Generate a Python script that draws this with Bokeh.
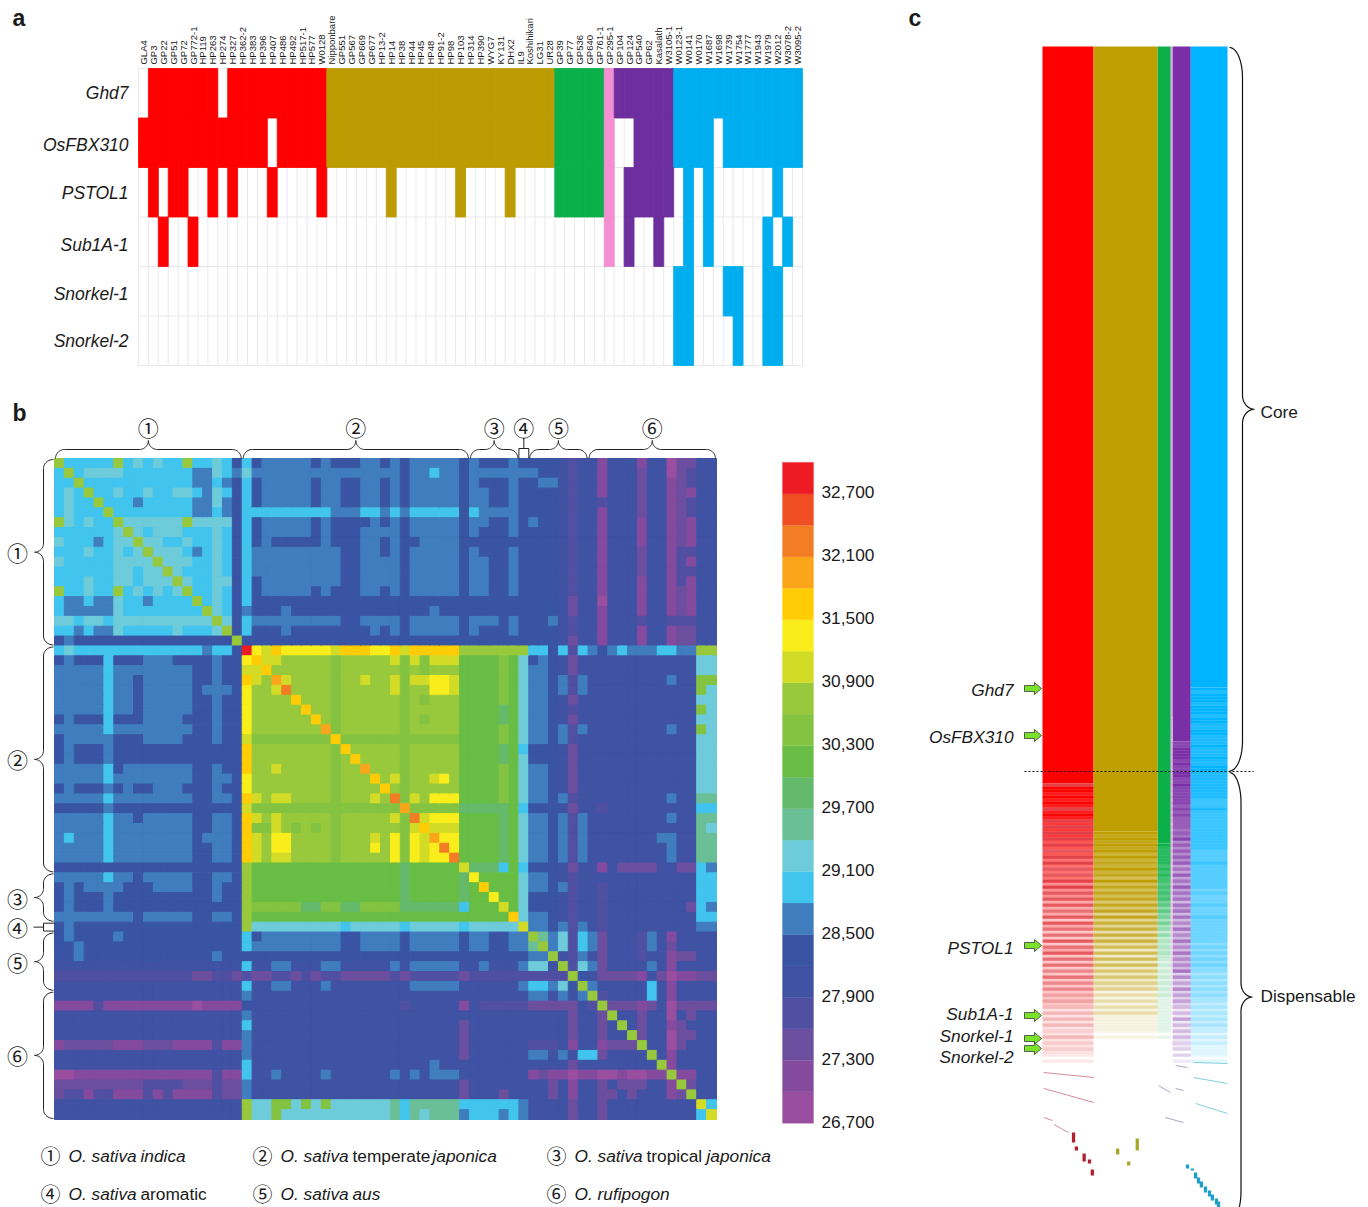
import re
import numpy as np
from bokeh.core.properties import value
from bokeh.embed import file_html
from bokeh.models import ColumnDataSource, LinearColorMapper, Range1d
from bokeh.plotting import figure
from bokeh.resources import INLINE

# ---------- panel a data ----------
SAMPLES = ["GLA4","GP3","GP22","GP51","GP72","GP772-1","HP119","HP263","HP274","HP327","HP362-2","HP383","HP396",
           "HP407","HP486","HP492","HP517-1","HP577","W0128","Nipponbare","GP551","GP567","GP669","GP677","HP13-2",
           "HP14","HP38","HP44","HP45","HP48","HP91-2","HP98","HP103","HP314","HP390","WYG7","KY131","DHX2","IL9",
           "Koshihikari","LG31","UR28","GP39","GP77","GP536","GP640","GP761-1","GP295-1","GP104","GP124","GP540",
           "GP62","Kasalath","W3105-1","W0123-1","W0141","W0170","W1687","W1698","W1739","W1754","W1777","W1943",
           "W1979","W2012","W3078-2","W3095-2"]
GROUP_SIZES = [19, 23, 5, 1, 6, 13]
GROUP_COLORS = ["#FF0000", "#BC9C02", "#0CB04A", "#F48FD2", "#6D2E9E", "#00AEEF"]
GENES = ["Ghd7", "OsFBX310", "PSTOL1", "Sub1A-1", "Snorkel-1", "Snorkel-2"]
GHD7_ABSENT = [0, 8]
OSFBX310_ABSENT = [13, 48, 49, 58]
PSTOL1_PRESENT = [1,3,4,7,9,13,18,25,32,37,42,43,44,45,46,47,49,50,51,52,53,55,57,64]
SUB1A_PRESENT = [2,5,47,49,52,55,57,63,65]
SNORKEL1_PRESENT = [54,55,59,60,63,64]
SNORKEL2_PRESENT = [54,55,60,63,64]

# ---------- panel b data: shared-gene classes, lower triangle, run-length coded ----------
LEVELS = "pqrsdDbctuvghijyoefkR"   # lowest to highest class
HEAT_PALETTE = ["#9A4E9F","#844A9E","#6C4E9F","#504FA2","#3F52A3","#3A54A4","#3F7DBF","#41C4EE","#6DCBDA","#6BBF97",
                "#64BA6A","#68BD45","#84C341","#98C93C","#D2DB26","#F9ED1B","#FFCC05","#FBA51A","#F37D25","#F04E23","#ED1C24"]
COLORBAR_TICKS = [26700, 27300, 27900, 28500, 29100, 29700, 30300, 30900, 31500, 32100, 32700]
LOWER = [
"i",
"c i",
"2c i",
"c t c i",
"c t 2c i",
"c t 3c i",
"i t c t 2c i",
"6c t i",
"t 3c b c 2t i",
"3c t 2c t c t i",
"t 5c 4t i",
"6c 2t c 2t i",
"3c t 2c 2t c 3t i",
"i 2c t 2c i c t c t c t i",
"c 2b c 2b t 2c b 4c i",
"c 5b t 8c i",
"2t c 2t c 10t i",
"2c b c 2b t 5c t 3c t i",
"D b 16D i",
"c t 13c b 2c D R",
"D b 3D c 3D 3b 4D b 2D y o",
"5b c 8b 2D b 2D j j o",
"5b c 2b D 5b 2D b 2D o j i e",
"5b c 2b D 5b D 3b D y 2i j f",
"5b c 2b D 5b 2D b 2D y 4i o",
"5b c 2b D 5b 2D b 2D y 5i o",
"D b 3D c 3D 4b 3D b 2D y 6i o",
"5b c 8b 2D b 2D y 7i e",
"D 5b 3D 4b 3D b 2D j 8h o",
"D b 3D b 13D o 8i h o",
"D b 3D b 13D o 8i h i o",
"5b c D 7b 2D b 2D o 2i j 5i h 2i e",
"5b c 8b 2D 2b D y 8i h 3i o",
"D b 3D b D b 2D 3b 3D b 2D y 8i h 4i o",
"5b c 8b 2D 2b D o j i 2j 4i h 3i j i f",
"5D b 13D j 15h e",
"5b c 2b D 5b 2D 2b D o j i j 5i h 5i j h f",
"5b c 8b 2D 2b D o 2h j i h i h i h 5i i h j o",
"b c 3b c 8b D 3b D o j i 2y 4i h 3i j i y h y j e",
"5b c 8b 2D 2b D o j i 2y 4i h 3i y i y h y j y f",
"5b c 8b 2D 2b D o j i 2j 4i h 3i i i y h y j 2y f",
"19D i 15g v 5g j",
"5b c 2b D 5b 2D 2b D i 15g v 5g v y",
"D b D 4b 3D 4b 2D b 2D i 15g v 5g v g o",
"D b 3D b 10D b 2D i 15g v 5g v 2g y",
"D b 3D b 13D i 5h 2v 2h 2v 4h v 5v c 3g j",
"8b D 5b 2D 2b D i 21g g 4g o",
"D b 17D i 9t c 5t c 5t c 5t j",
"D b 4D b 12D c D 8b 2D 4b D 5b D 2b 2D b b i",
"2D b 16D c b 8b 2D 4b D 5b D 2b 2D b b u i",
"2D b 13D b 2D 29D 2b i",
"19d c 2d 2b 3d 2b 5d b d 5b 2d b 3d b 2t d i",
"14s 2r 2s r s 2r 2s r s r 2s 5r s r 5s r 6s 4s i",
"19d c 2d 2b 3d b 8d 5b d 5d b 2c b t D i",
"19d b 28d 2b d b d b i",
"4q s 9q p 4q D 15d s 5d q d 5s 5r d s i",
"19d b 28d 4d r 2d r i",
"19d c 21d r 6d 4d r 2d r d i",
"19d b 21d r 6d 4d r 2d r 2d i",
"q 5r 3q 3r 4q s 2q b 21d r 6d 3s d q 2d q 3r i",
"19d b 21d r 6d 2b d b d 2c r 4d i",
"19d c 18d b 2d d 6d 4d r 2d d 4d d i",
"2p 4q 10q s 2q c 2d b 4d b 6d b d b d 3b 7d q r 2q p 2q 2p q 2p 2q i",
"9r 4s 3r s 2r b 21d r 6d 2d r d q 2d r d 3r 2d q i",
"r 2s q 2s 3q s q s 4q s 2r b 21d r 3d r 2d 2d r d q 2d 2r d r 3d q r i",
"19d i 2t 2h t h t h 6t u c 5u 6c b 4d r 2d r 9d j",
"19d i 2t h 11t u c u t 3u b 3c b c b 4d r 2d r 9d c j",
]
LEGEND_TEXT = [
    [("O. sativa", "italic"), ("indica", "italic")],
    [("O. sativa", "italic"), ("temperate", "normal"), ("japonica", "italic")],
    [("O. sativa", "italic"), ("tropical", "normal"), ("japonica", "italic")],
    [("O. sativa", "italic"), ("aromatic", "normal")],
    [("O. sativa", "italic"), ("aus", "italic")],
    [("O. rufipogon", "italic")],
]

# ---------- panel c data ----------
ACCESSIONS = [125, 157, 32, 5, 44, 90]
CORE_RANK_END = 725
GENE_RANKS = [642, 689, 899, 969, 992, 1002]
GENE_LABEL_RANKS = [643, 690, 901, 967, 989, 1010]
STRIPE_COLORS = ["#DD2A32", "#BC9C02", "#0CB04A", "#E58AD0", "#7B2FA6", "#00B4FF"]
CORE_COLORS = ["#FF0000", "#BE9E00", "#0CB04A", "#D9A0E0", "#7B2FA6", "#00B4FF"]
DARK_STRIPES = [
 "9999999999 9999999999 9999999999 9899989888 8878877887 7767766767 6656554433 33232211",
 "9999999999 9999999999 9999999999 9999999999 9999898988 8888777766 6655443333 11110000",
 "9999999999 9999999999 9999999999 9999999999 9988888777 7665544333 2222222111 11110000",
 "9999999999 9999999999 9999999999 8888888777 7777666666 5555554444 4433332222 11111000",
 "9999999999 9999999999 9999899889 8988888777 8777767676 6666565656 5565454433 43332221",
 "9999999999 9999999999 9898888898 8888787777 7766766666 5656555555 5544444333 33222111",
]
LIGHT_STRIPES = [
 "9999999999 9999999999 9999999999 9988888777 6665555444 3332322232 2222222211 11111100",
 "9999999999 9999999999 9999999999 9999999998 8877776666 5544433322 2222211111 11000000",
 "9999999999 9999999999 9999999999 9999999999 9888777666 5443322222 1111111111 11000000",
 "9999999999 9999999999 8888888888 7777777666 6666555555 4444443333 3322221111 11000000",
 "9999999999 9999999999 9999899989 8888777766 5555444444 3433333333 3322222211 11111000",
 "9999999999 9999989898 9898989898 8887777777 7766666655 5555555444 4433333222 22111100",
]
STRIPE_START_RANK = 551
# (accession from, accession to, rank from, rank to)
RED_TRACES = [(3,126,1026,1031),(3,126,1042,1056),(3,24,1071,1074),(28,63,1078,1086)]
PURPLE_TRACES = [(284,313,1039,1046),(326,345,1042,1044),(301,345,1071,1076),(326,355,1019,1021)]
BLUE_TRACES = [(370,453,1031,1037),(375,453,1057,1067),(370,453,1016,1017)]
RED_SPOTS = [(76,1091,5),(83,1102,2),(102,1111,4),(115,1115,2),(122,1126,3)]
GOLD_SPOTS = [(184,1105,3),(232,1098,6),(211,1117,2)]
BLUE_SPOTS = [(355,1120,2),(367,1123,1),(375,1129,3),(382,1134,3),(389,1138,3),(399,1143,3),(409,1147,3),(416,1151,3),(426,1155,3),(431,1158,3)]

# ---------- layout ----------
PAGE_L, PAGE_T = 0, 0
W, H = 1368, 1207
PAGE_R, PAGE_B = PAGE_L + W, PAGE_T + H
SANS = value("Liberation Sans")
CIRCLED = "①②③④⑤⑥"


def x_span(px0, px1, v0, v1):
    s = (v1 - v0) / (px1 - px0)
    return Range1d(v0 + (PAGE_L - px0) * s, v0 + (PAGE_R - px0) * s)


def y_span(px0, px1, v0, v1):
    s = (v1 - v0) / (px1 - px0)
    return Range1d(v0 + (PAGE_B - px0) * s, v0 + (PAGE_T - px0) * s)


p = figure(width=W, height=H, x_range=Range1d(PAGE_L, PAGE_R), y_range=Range1d(PAGE_B, PAGE_T),
           toolbar_location=None, output_backend="svg", x_axis_location=None, y_axis_location=None,
           min_border=0, outline_line_color=None, background_fill_color="white")
p.grid.visible = False

A_X0, A_X1, A_Y0, A_Y1 = 138, 802, 68, 365
B_X0, B_X1, B_Y0, B_Y1 = 54, 716, 458, 1119
C_X0, C_X1, C_Y0 = 1042, 1227, 46
BAR_X0, BAR_X1, BAR_Y_LOW, BAR_Y_HIGH = 782, 813, 1122.8, 461.9
N = len(SAMPLES)
p.extra_x_ranges = {"ax": x_span(A_X0, A_X1, 0, N), "bx": x_span(B_X0, B_X1, 0, N),
                    "cx": x_span(C_X0, C_X1, 0, sum(ACCESSIONS))}
p.extra_y_ranges = {"ay": y_span(A_Y0, A_Y1, 0, len(GENES)), "by": y_span(B_Y0, B_Y1, 0, N),
                    "cy": y_span(C_Y0, C_Y0 + 1, 0, 1),
                    "bar": y_span(BAR_Y_LOW, BAR_Y_HIGH, 26700, 33000)}


def label(xs, ys, texts, size, align="left", base="middle", style="normal", font=SANS, color="#1a1a1a",
          angle=0, xr="default", yr="default"):
    p.text(x=xs, y=ys, text=texts, text_font=font, text_font_size=size, text_align=align, text_baseline=base,
           text_font_style=style, text_color=color, angle=angle, x_range_name=xr, y_range_name=yr)


def brace_uv(a, b, ru, rv, tu, tv):
    m = (a + b) / 2
    t = np.linspace(0, np.pi / 2, 14)
    u1 = a + ru - ru * np.cos(t)
    v1 = rv * np.sin(t)
    u2 = m - tu + tu * np.sin(t)
    v2 = rv + tv - tv * np.cos(t)
    u = np.concatenate([u1, u2, (a + b - u2)[::-1], (a + b - u1)[::-1]])
    v = np.concatenate([v1, v2, v2[::-1], v1[::-1]])
    return u, v


# ---------- panel a ----------
owner = np.repeat(np.arange(len(GROUP_SIZES)), GROUP_SIZES)
everyone = list(range(N))
present = [[i for i in everyone if i not in GHD7_ABSENT], [i for i in everyone if i not in OSFBX310_ABSENT],
           PSTOL1_PRESENT, SUB1A_PRESENT, SNORKEL1_PRESENT, SNORKEL2_PRESENT]
p.segment(x0=list(range(N + 1)), x1=list(range(N + 1)), y0=[0] * (N + 1), y1=[len(GENES)] * (N + 1),
          line_color="#E8E9EE", line_width=1, x_range_name="ax", y_range_name="ay")
p.segment(x0=[0] * 7, x1=[N] * 7, y0=list(range(7)), y1=list(range(7)),
          line_color="#E8E9EE", line_width=1, x_range_name="ax", y_range_name="ay")
L, R, T, B, C = [], [], [], [], []
for row, members in enumerate(present):
    for m in members:
        L.append(m); R.append(m + 1); T.append(row); B.append(row + 1); C.append(GROUP_COLORS[owner[m]])
p.quad(left=L, right=R, top=T, bottom=B, fill_color=C, line_color=C, line_width=0.8,
       x_range_name="ax", y_range_name="ay")
label([i + 0.5 for i in range(N)], [-0.08] * N, SAMPLES, "9.5px", angle=np.pi / 2, xr="ax", yr="ay")
label([-1.0] * 6, [r + 0.5 + d for r, d in enumerate([0, 0.05, 0.02, 0.06, 0.05, 0])], GENES, "17.5px",
      align="right", style="italic", xr="ax", yr="ay")
label([12, 12, 908], [17, 412, 17], ["a", "b", "c"], "23px", style="bold")

# ---------- panel b ----------
rows = []
for r, s in enumerate(LOWER):
    cells = "".join(ch * int(n or 1) for n, ch in re.findall(r"(\d*)([A-Za-z])", s))
    rows.append(cells)
bad = [(r, len(c)) for r, c in enumerate(rows) if len(c) != r + 1]
if bad:
    raise ValueError(f"bad row lengths {bad}")
mapper = LinearColorMapper(palette=HEAT_PALETTE, low=26700, high=33000)
val = {ch: 26700 + 300 * i + 150 for i, ch in enumerate(LEVELS)}
hl, hr, ht, hb, hv = [], [], [], [], []
for r, c in enumerate(rows):
    for k, ch in enumerate(c):
        for i, j in {(r, k), (k, r)}:
            hl.append(j); hr.append(j + 1); ht.append(i); hb.append(i + 1); hv.append(val[ch])
src = ColumnDataSource(dict(left=hl, right=hr, top=ht, bottom=hb, value=hv))
p.quad(left="left", right="right", top="top", bottom="bottom", source=src,
       fill_color={"field": "value", "transform": mapper}, line_color={"field": "value", "transform": mapper},
       line_width=1, x_range_name="bx", y_range_name="by")

edges = np.concatenate([[0], np.cumsum(GROUP_SIZES)])
bx = lambda v: B_X0 + (B_X1 - B_X0) * v / N
by = lambda v: B_Y0 + (B_Y1 - B_Y0) * v / N
for g in range(6):
    a, b = bx(edges[g]), bx(edges[g + 1])
    c0, c1 = by(edges[g]) + 1, by(edges[g + 1]) - 1
    if g == 3:
        mid = (a + b) / 2
        p.line([a, a, b, b], [B_Y0, B_Y0 - 10, B_Y0 - 10, B_Y0], line_color="#222222", line_width=1)
        p.line([mid, mid], [B_Y0 - 10, B_Y0 - 21], line_color="#222222", line_width=1)
        mid2 = (c0 + c1) / 2
        p.line([B_X0, B_X0 - 11, B_X0 - 11, B_X0], [c0, c0, c1, c1], line_color="#222222", line_width=1)
        p.line([B_X0 - 11, B_X0 - 21], [mid2, mid2], line_color="#222222", line_width=1)
    else:
        u, v = brace_uv(a + 1, b - 1, 9, 9, 9, 9)
        p.line(u, B_Y0 - v, line_color="#222222", line_width=1)
        u, v = brace_uv(c0, c1, 9, 10, 9, 9)
        p.line(B_X0 - 1 - v, u, line_color="#222222", line_width=1)
    label([(a + b) / 2], [B_Y0 - 32], [CIRCLED[g]], "21px", align="center", font=value("Noto Sans CJK SC"))
    label([17], [(by(edges[g]) + by(edges[g + 1])) / 2], [CIRCLED[g]], "21px", align="center",
          font=value("Noto Sans CJK SC"))

# colour bar
vals = [26700 + 300 * i for i in range(21)]
bar = ColumnDataSource(dict(lo=vals, hi=[v + 300 for v in vals], value=[v + 150 for v in vals],
                            l=[BAR_X0] * 21, r=[BAR_X1] * 21))
p.quad(left="l", right="r", bottom="lo", top="hi", source=bar, fill_color={"field": "value", "transform": mapper},
       line_color={"field": "value", "transform": mapper}, line_width=0.3, y_range_name="bar")
label([821] * len(COLORBAR_TICKS), [t + 14 for t in COLORBAR_TICKS], [f"{t:,}" for t in COLORBAR_TICKS], "17.3px",
      yr="bar")

# legend
LEG_X = [50, 262, 556]
LEG_Y = [1155, 1193]
for i, pieces in enumerate(LEGEND_TEXT):
    x0, y0 = LEG_X[i % 3], LEG_Y[i // 3]
    label([x0], [y0], [CIRCLED[i]], "20px", align="center", font=value("Noto Sans CJK SC"))
    x = x0 + 18
    for text, style in pieces:
        label([x], [y0], [text], "17.3px", style=style)
        # advance by the rendered width of the piece
        x += {"O. sativa": 72, "temperate": 80, "tropical": 60}.get(text, 0)

# ---------- panel c ----------
starts = np.concatenate([[0], np.cumsum(ACCESSIONS)])
sl, sr, st, sb, sc, sa = [], [], [], [], [], []
for g in range(6):
    dark = DARK_STRIPES[g].replace(" ", "")
    light = LIGHT_STRIPES[g].replace(" ", "")
    solid = 0
    while dark[solid] == "9" and light[solid] == "9":
        solid += 1
    p.quad(left=[starts[g]], right=[starts[g + 1]], top=[0], bottom=[STRIPE_START_RANK + 6 * solid],
           fill_color=CORE_COLORS[g], line_color=None, x_range_name="cx", y_range_name="cy")
    for k in range(solid, len(dark)):
        for part, digit, col in ((0, dark[k], STRIPE_COLORS[g] if dark[k] != "9" else CORE_COLORS[g]),
                                 (1, light[k], CORE_COLORS[g])):
            rank = STRIPE_START_RANK + 6 * k + 3 * part
            sl.append(starts[g]); sr.append(starts[g + 1]); st.append(rank); sb.append(rank + 3.3)
            sc.append(col); sa.append(int(digit) / 9)
p.quad(left=sl, right=sr, top=st, bottom=sb, fill_color=sc, fill_alpha=sa, line_color=None,
       x_range_name="cx", y_range_name="cy")
for traces, col in ((RED_TRACES, "#B24050"), (PURPLE_TRACES, "#80609A"), (BLUE_TRACES, "#2FB0C8")):
    for a0, a1, r0, r1 in traces:
        p.line([a0, a1], [r0, r1], line_color=col, line_alpha=0.6, line_width=1, x_range_name="cx", y_range_name="cy")
for spots, col in ((RED_SPOTS, "#B01E2E"), (GOLD_SPOTS, "#A8A62A"), (BLUE_SPOTS, "#1E9FC8")):
    p.quad(left=[a - 4 for a, r, h in spots], right=[a + 4 for a, r, h in spots],
           top=[r - h for a, r, h in spots], bottom=[r + h for a, r, h in spots], fill_color=col, line_color=None,
           x_range_name="cx", y_range_name="cy")

# arrows and gene names
for rank in GENE_RANKS:
    xs = [1024, 1034, 1034, 1041, 1034, 1034, 1024]
    ys = [rank - 3, rank - 3, rank - 6, rank, rank + 6, rank + 3, rank + 3]
    p.patch(xs, ys, fill_color="#7BE22C", line_color="#3a3a3a", line_width=0.8, y_range_name="cy")
label([1013] * 6, GENE_LABEL_RANKS, GENES, "17.3px", align="right", style="italic", yr="cy")
p.line([1024, 1253], [CORE_RANK_END, CORE_RANK_END], line_color="#111111", line_width=1.2, line_dash="2 2",
       y_range_name="cy")

u, v = brace_uv(47, 770.5, 30, 13, 14, 12)
p.line(1229 + v, u, line_color="#111111", line_width=1.2)
u, v = brace_uv(772, 1221, 30, 11.5, 14, 11.5)
p.line(1229 + v, u, line_color="#111111", line_width=1.2)
label([1260, 1260], [411, 995], ["Core", "Dispensable"], "17.3px")

open("out.html", "w").write(file_html(p, INLINE))
